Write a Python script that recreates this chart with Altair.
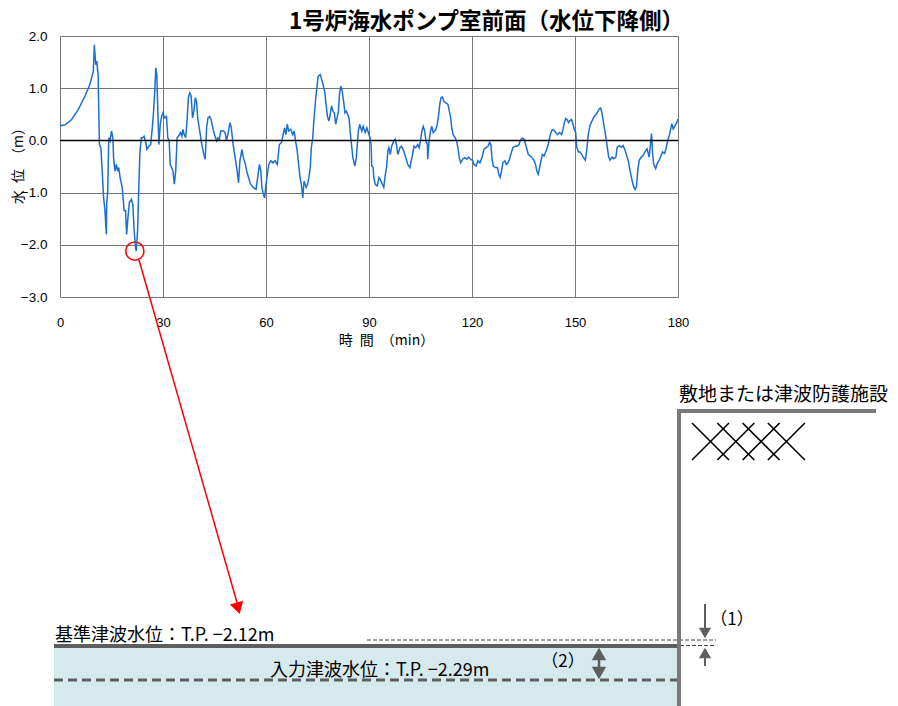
import altair as alt
import pandas as pd

# ---------------- data ----------------
time_min = [
    0, 1.5, 3.4, 5.3, 7.3, 8.7, 9.7, 10.0, 10.4, 10.7, 11.1, 11.3, 11.5, 11.9, 12.3, 12.7, 13.1, 13.5,
    13.6, 13.9, 14.2, 14.6, 15.0, 15.4, 15.6, 16.0, 16.4, 16.8, 17.1, 17.5, 18.1, 18.7, 19.1, 19.4,
    19.8, 20.2, 20.8, 21.2, 21.6, 22.0, 22.2, 22.6, 23.0, 23.3, 23.7, 24.1, 24.5, 24.9, 25.3, 25.9,
    26.4, 26.8, 27.2, 27.6, 27.9, 28.2, 28.5, 28.8, 29.2, 29.6, 30.0, 30.4, 31.0, 31.4, 31.8, 32.1,
    32.5, 32.9, 33.3, 33.7, 34.1, 34.5, 35.1, 35.5, 35.8, 36.2, 36.6, 37.0, 37.4, 37.8, 38.2, 38.6,
    39.0, 39.4, 39.8, 40.1, 40.7, 41.3, 41.9, 42.3, 42.7, 43.1, 43.6, 44.0, 44.6, 45.0, 45.6, 46.0,
    46.4, 46.8, 47.6, 48.1, 48.5, 49.1, 49.5, 49.9, 50.3, 50.7, 51.0, 51.6, 52.0, 52.4, 53.0, 53.4,
    54.0, 54.4, 54.9, 55.5, 56.3, 57.1, 57.7, 58.1, 58.5, 58.8, 59.2, 59.6, 60.0, 60.4, 60.8, 61.4,
    62.0, 62.6, 63.3, 63.9, 64.5, 65.0, 65.4, 65.8, 66.2, 66.6, 67.2, 67.8, 68.2, 68.6, 69.1, 69.5,
    69.9, 70.3, 70.7, 71.1, 71.7, 72.1, 72.5, 72.9, 73.2, 73.6, 74.0, 74.4, 74.8, 75.2, 75.8, 76.2,
    76.6, 77.1, 77.5, 77.9, 78.3, 78.7, 79.1, 79.5, 79.9, 80.3, 80.7, 81.1, 81.4, 81.8, 82.2, 82.6,
    83.0, 83.4, 83.8, 84.2, 84.5, 84.9, 85.3, 85.9, 86.3, 86.9, 87.3, 87.9, 88.3, 88.9, 89.4, 90.0,
    90.3, 90.6, 90.8, 91.2, 91.4, 91.8, 92.4, 92.9, 93.5, 93.9, 94.3, 94.7, 95.1, 95.5, 95.8, 96.2,
    96.6, 97.2, 97.6, 98.0, 98.4, 99.0, 99.5, 100.1, 100.7, 101.3, 101.9, 102.3, 102.7, 103.1, 103.6,
    104.2, 104.6, 105.0, 105.4, 105.8, 106.2, 106.6, 107.0, 107.1, 107.5, 107.9, 108.3, 108.7, 109.1,
    109.5, 109.9, 110.3, 110.6, 111.0, 111.4, 111.8, 112.4, 113.0, 113.4, 113.8, 114.1, 114.5, 115.1,
    115.5, 115.9, 116.3, 116.7, 117.3, 117.9, 118.5, 119.0, 119.6, 120.2, 120.6, 121.2, 121.7, 122.3,
    122.9, 123.5, 124.1, 124.7, 125.1, 125.5, 125.8, 126.2, 126.8, 127.4, 127.8, 128.2, 128.6, 129.0,
    129.6, 130.0, 130.5, 130.9, 131.3, 131.9, 132.5, 133.1, 133.7, 134.0, 134.6, 135.2, 135.6, 136.0,
    136.4, 137.0, 137.5, 138.1, 138.5, 138.9, 139.3, 139.7, 140.1, 140.5, 141.0, 141.6, 142.2, 142.6,
    143.0, 143.4, 144.0, 144.4, 144.9, 145.5, 146.1, 146.5, 146.9, 147.3, 147.7, 148.1, 148.4, 149.0,
    149.4, 149.8, 150.2, 150.5, 151.0, 151.5, 152.4, 153.0, 153.4, 153.9, 154.4, 155.0, 155.5, 156.3,
    157.1, 157.5, 157.8, 158.2, 158.6, 159.0, 159.4, 159.8, 160.2, 160.8, 161.3, 161.9, 162.3, 162.9,
    163.5, 164.0, 164.6, 165.2, 165.6, 166.0, 166.6, 167.1, 167.5, 167.9, 168.3, 168.7, 169.3, 169.8,
    170.4, 171.0, 171.6, 172.0, 172.3, 172.6, 172.9, 173.5, 173.9, 174.5, 174.9, 175.5, 176.1, 176.5,
    177.0, 177.6, 178.2, 178.6, 179.2, 179.7, 180.0,
]
level_m = [
    0.28, 0.30, 0.40, 0.59, 0.85, 1.07, 1.32, 1.83, 1.45, 1.52, 1.26, 0.50, -0.08, -0.14, -0.59, -1.10, -1.35, -1.80,
    -1.22, -0.97, 0.05, -0.01, 0.18, 0.05, -0.33, -0.59, -0.46, -0.59, -0.52, -0.71, -0.90, -1.35, -1.35, -1.80,
    -1.48, -1.19, -1.13, -1.22, -1.73, -2.05, -2.12, -1.73, -0.78, -0.20, 0.05, 0.05, 0.08, -0.01, -0.17, -0.11,
    -0.08, 0.18, 0.50, 0.94, 1.39, 1.26, 0.56, -0.08, 0.31, 0.46, 0.53, 0.43, 0.46, 0.05, -0.01, -0.46,
    -0.52, -0.59, -0.84, -0.59, 0.05, 0.08, 0.15, 0.08, 0.21, 0.11, 0.05, 0.37, 0.82, 0.91, 0.85, 0.43,
    0.56, 0.82, 0.72, 0.43, 0.18, -0.08, -0.27, -0.36, 0.24, 0.43, 0.46, 0.40, 0.21, 0.11, -0.01, 0.05,
    0.02, 0.18, 0.18, 0.15, -0.01, 0.18, 0.34, 0.24, -0.01, -0.20, -0.33, -0.59, -0.81, -0.39, -0.17, -0.33,
    -0.46, -0.59, -0.71, -0.84, -0.90, -0.94, -0.65, -0.46, -0.59, -0.90, -1.03, -1.10, -0.84, -0.65, -0.46, -0.39,
    -0.43, -0.39, -0.46, -0.08, -0.04, 0.11, 0.24, 0.11, 0.31, 0.18, 0.21, 0.11, 0.18, -0.01, -0.20, -0.46,
    -0.71, -0.84, -1.10, -0.78, -0.90, -0.84, -0.71, -0.52, -0.14, 0.05, 0.43, 0.75, 1.00, 1.23, 1.26, 1.17,
    1.07, 0.94, 0.69, 0.46, 0.37, 0.50, 0.66, 0.56, 0.53, 0.31, 0.43, 0.56, 0.88, 1.04, 0.94, 0.75,
    0.53, 0.56, 0.50, 0.43, 0.18, -0.08, -0.33, -0.49, -0.33, 0.18, 0.31, 0.18, 0.27, 0.15, 0.24, 0.11,
    0.05, -0.08, -0.49, -0.52, -0.71, -0.84, -0.87, -0.71, -0.78, -0.84, -0.90, -0.68, -0.52, -0.20, -0.14, -0.27,
    -0.11, -0.01, 0.02, -0.08, -0.27, -0.14, -0.11, -0.20, -0.33, -0.46, -0.52, -0.39, -0.27, -0.11, -0.14,
    -0.08, -0.14, -0.01, 0.18, 0.27, 0.18, -0.01, -0.08, -0.36, -0.01, 0.18, 0.27, 0.15, 0.18,
    0.21, 0.31, 0.50, 0.69, 0.82, 0.83, 0.75, 0.72, 0.69, 0.56, 0.43, 0.24, 0.11, 0.05,
    -0.01, -0.14, -0.33, -0.43, -0.36, -0.33, -0.36, -0.32, -0.36, -0.39, -0.46, -0.49, -0.39, -0.43,
    -0.33, -0.17, -0.14, -0.11, -0.04, -0.08, -0.33, -0.49, -0.52, -0.52, -0.65, -0.71, -0.59, -0.43,
    -0.39, -0.46, -0.43, -0.36, -0.27, -0.14, -0.11, -0.11, -0.08, -0.01, 0.04, 0.02, -0.08, -0.17,
    -0.27, -0.30, -0.33, -0.39, -0.46, -0.59, -0.65, -0.52, -0.39, -0.27, -0.30, -0.20, -0.08, 0.05,
    0.15, 0.21, 0.19, 0.15, 0.11, 0.15, 0.11, 0.21, 0.34, 0.42, 0.40, 0.34, 0.37, 0.40,
    0.31, 0.21, 0.15, -0.13, -0.22, -0.22, -0.32, -0.38, -0.19, 0.13, 0.29, 0.38, 0.45, 0.51,
    0.61, 0.62, 0.54, 0.38, 0.22, 0.06, -0.13, -0.32, -0.38, -0.32, -0.35, -0.32, -0.13, -0.10,
    -0.13, -0.10, -0.19, -0.32, -0.41, -0.57, -0.76, -0.89, -0.94, -0.89, -0.57, -0.38, -0.32, -0.29,
    -0.22, -0.16, -0.32, -0.06, 0.13, -0.25, -0.45, -0.54, -0.45, -0.38, -0.32, -0.22, -0.25, -0.16,
    0.00, 0.13, 0.32, 0.22, 0.29, 0.35, 0.41,
]

x_ticks = [0, 30, 60, 90, 120, 150, 180]
y_ticks = [-3, -2, -1, 0, 1, 2]

min_time = [21.8]
min_level = [-2.12]

title_text = "1号炉海水ポンプ室前面（水位下降側）"
x_title = "時\u2002間\u2002（min）"
y_title = "水\u2002位\u2002（m）"
base_label = "基準津波水位：T.P. −2.12m"
input_label = "入力津波水位：T.P. −2.29m"
site_label = "敷地または津波防護施設"
mark1 = "（1）"
mark2 = "（2）"

# ---------------- layout ----------------
W, H = 618, 261
JP = "Noto Sans CJK JP"
NUM = "Liberation Sans"
GRAY = "#5e5e5e"

df = pd.DataFrame({"t": time_min, "v": level_m})

xs = alt.Scale(domain=[0, 180], nice=False, zero=False)
ys = alt.Scale(domain=[-3, 2], nice=False, zero=False)

x_axis = alt.Axis(values=x_ticks, grid=True, gridColor="#777777", gridWidth=1, ticks=False,
                  domain=False, labelFont=NUM, labelFontSize=13, labelColor="black",
                  labelPadding=19, labelFlush=False, title=x_title, titleFont=JP,
                  titleFontSize=14, titleFontWeight="normal", titleColor="black",
                  titleX=326, titleY=43, titleBaseline="middle", titleAlign="center")
y_axis = alt.Axis(values=y_ticks, format=".1f", grid=True, gridColor="#777777", gridWidth=1,
                  ticks=False, domain=False, labelFont=NUM, labelFontSize=13.5, labelColor="black",
                  labelPadding=13, title=y_title, titleFont=JP, titleFontSize=14,
                  titleFontWeight="normal", titleColor="black", titleAngle=270,
                  titleX=-42, titleY=126, titleAlign="center", titleBaseline="middle")

line = alt.Chart(df).mark_line(color="#1c6fd2", strokeWidth=1.5).encode(
    x=alt.X("t:Q", scale=xs, axis=x_axis),
    y=alt.Y("v:Q", scale=ys, axis=y_axis),
)

zero = alt.Chart(pd.DataFrame({"v": [0]})).mark_rule(color="black", strokeWidth=1.5).encode(
    y=alt.Y("v:Q", scale=ys)
)

circle = alt.Chart(pd.DataFrame({"t": min_time, "v": min_level})).mark_point(
    shape="circle", size=330, filled=False, color="red", strokeWidth=1.5, opacity=1
).encode(x=alt.X("t:Q", scale=xs), y=alt.Y("v:Q", scale=ys))

# ---------------- diagram annotations (pixel positions relative to plot origin) -------------
def px(field):
    return alt.X(field + ":Q", scale=None, axis=None)


def py(field):
    return alt.Y(field + ":Q", scale=None, axis=None)


def segs(rows, **style):
    d = pd.DataFrame(rows, columns=["x", "y", "x2", "y2"])
    return alt.Chart(d).mark_rule(**style).encode(
        x=px("x"), y=py("y"), x2="x2:Q", y2="y2:Q"
    )


def syms(rows, shape, size, color, angle=0):
    d = pd.DataFrame(rows, columns=["x", "y"])
    return alt.Chart(d).mark_point(shape=shape, size=size, filled=True, color=color,
                                   opacity=1, angle=angle).encode(x=px("x"), y=py("y"))


def label(x, y, text, size, align="left", font=JP):
    d = pd.DataFrame({"x": [x], "y": [y], "s": [text]})
    return alt.Chart(d).mark_text(align=align, baseline="middle", font=font, fontSize=size,
                                  color="black").encode(x=px("x"), y=py("y"), text="s:N")


water = alt.Chart(pd.DataFrame({"x": [-6], "y": [610], "x2": [618], "y2": [672]})).mark_rect(
    color="#d6eaee").encode(x=px("x"), y=py("y"), x2="x2:Q", y2="y2:Q")

red_line = segs([[79, 224, 178, 570]], color="red", strokeWidth=1.5)
red_head = syms([[178.1, 572.3]], "triangle-down", 190, "red", angle=344)

base_line = segs([[-6, 610, 618, 610]], color=GRAY, strokeWidth=4)
input_line = segs([[-6, 644, 618, 644]], color=GRAY, strokeWidth=3, strokeDash=[9, 5])
thin_dash = segs([[307, 604, 656, 604], [620, 609.5, 656, 609.5]], color="#444444",
                 strokeWidth=1, strokeDash=[4, 2])
wall = segs([[619, 375, 619, 672], [617, 375, 816, 375]], color="#7a7a7a", strokeWidth=4)
cross_rows = []
for i in range(4):
    x0 = 632 + 25.3 * i
    cross_rows.append([x0, 387, x0 + 37, 424])
    cross_rows.append([x0 + 37, 387, x0, 424])
crosses = segs(cross_rows, color="black", strokeWidth=1.6)

arrow1_lines = segs([[645, 568, 645, 594], [645, 618, 645, 630]], color=GRAY, strokeWidth=2)
arrow1_heads = syms([[645, 597]], "triangle-down", 150, GRAY) + syms([[645, 617]], "triangle-up", 150, GRAY)
arrow2_line = segs([[539, 618, 539, 636]], color=GRAY, strokeWidth=2.5)
arrow2_heads = syms([[539, 618]], "triangle-up", 210, GRAY) + syms([[539, 637]], "triangle-down", 210, GRAY)

texts = (
    label(-5, 600, base_label, 18)
    + label(210, 635, input_label, 18)
    + label(503, 626, mark2, 17, align="center")
    + label(672, 584, mark1, 17, align="center")
    + label(619, 359, site_label, 19)
)

chart = alt.layer(
    line, zero, circle, water, red_line, red_head, base_line, input_line, thin_dash, wall,
    crosses, arrow1_lines, arrow1_heads, arrow2_line, arrow2_heads, texts,
).properties(
    width=W, height=H,
    title=alt.TitleParams(title_text, anchor="end", frame="group", font=JP, fontSize=22.5,
                          fontWeight="bold", color="black", offset=-4, dx=6),
    autosize=alt.AutoSizeParams(type="none"),
    padding={"left": 52, "top": 28, "right": 212, "bottom": 409},
).configure_view(stroke="black", strokeWidth=1.5).configure(background="white")

chart.save("out.html", embed_options={"renderer": "svg", "actions": False})
